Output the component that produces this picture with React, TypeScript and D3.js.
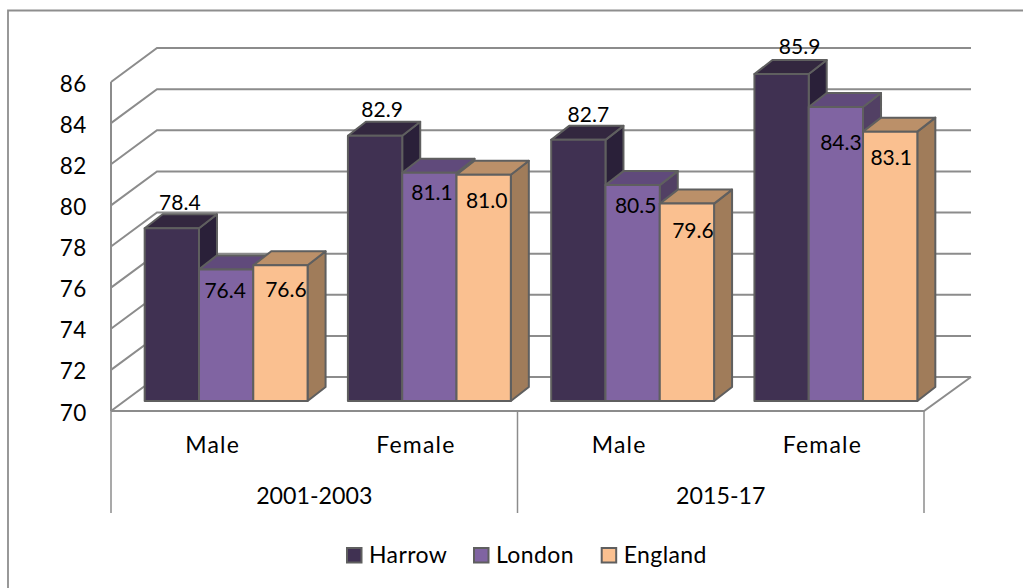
import React from "react";
import * as d3 from "d3";

const groups = ["2001-2003", "2015-17"];
const categories = ["Male", "Female", "Male", "Female"];
const seriesNames = ["Harrow", "London", "England"];
const harrow = [78.4, 82.9, 82.7, 85.9];
const london = [76.4, 81.1, 80.5, 84.3];
const england = [76.6, 81.0, 79.6, 83.1];
const ticks = [70, 72, 74, 76, 78, 80, 82, 84, 86];

const fronts = ["#403152", "#8064a2", "#fac090"];
const tops = ["#33273f", "#604a7b", "#bb9069"];
const sides = ["#2a2039", "#524064", "#a07c5a"];
// hand-placed label nudges, per series then per category: [dx, dy from bar top]
const labelNudge = [
  [[8, -18.5], [7, -19], [10, -18], [18, -20]],
  [[-1, 29], [2.6, 27], [3, 27.6], [5, 43.5]],
  [[5.5, 32], [3, 33], [6, 34], [1, 33]],
];

const FONT = "Lato, Carlito, Calibri, sans-serif";
const GRID = "#8c8c8c";
const EDGE = "#5f5f5f";

export default function App() {
  const x0 = 111, x1 = 924, yBase = 411, yTop = 82;
  const dx = 46, dy = 34;
  const y = d3.scaleLinear().domain([70, 86]).range([yBase, yTop]);
  const groupScale = d3.scaleBand<number>().domain([0, 1, 2, 3]).range([x0, x1]);
  const barDx = 18, barDy = 14, shiftX = 13.5, shiftY = 10;
  const series = [harrow, london, england];
  const barW = 54.3;
  const groupW = groupScale.bandwidth();
  const groupLeft = (i: number) => groupScale(i)! + (groupW - barW * 3) / 2 + shiftX;

  return (
    <svg width={1023} height={588} style={{ position: "absolute", left: 0, top: 0, background: "#fff" }} fontFamily={FONT}>
      <polyline fill="none" stroke="#8e8e8e" strokeWidth={1.8} points={`8,588 8,10.5 1023,10.5`} />
      {ticks.map((t) => (
        <polyline key={t} fill="none" stroke={GRID} strokeWidth={2}
          points={`${x0},${y(t)} ${x0 + dx},${y(t) - dy} ${x1 + dx + 1},${y(t) - dy}`} />
      ))}
      <line x1={x0} x2={x0} y1={yTop} y2={yBase} stroke={GRID} strokeWidth={2} />
      <polyline fill="none" stroke={GRID} strokeWidth={2} points={`${x0},${yBase} ${x1},${yBase} ${x1 + dx + 1},${yBase - dy}`} />
      {[x0, (x0 + x1) / 2, x1].map((v) => (
        <line key={v} x1={v} x2={v} y1={yBase} y2={513} stroke={GRID} strokeWidth={1.5} />
      ))}
      {ticks.map((t) => (
        <text key={t} x={86.5} y={y(t) + 9.5} textAnchor="end" fontSize={22.5} letterSpacing={0.3} fill="#000">{t}</text>
      ))}
      {categories.map((c, i) => {
        const gx = groupLeft(i);
        return (
          <g key={i}>
            <text x={groupScale(i)! + groupW / 2} y={452.7} textAnchor="middle" fontSize={23} letterSpacing={1.2}>{c}</text>
            {series.map((s, k) => {
              const bx = gx + k * barW;
              const base = yBase - shiftY;
              const ty = y(s[i]) - shiftY;
              return (
                <g key={k} stroke={EDGE} strokeWidth={2} strokeLinejoin="round">
                  <polygon fill={sides[k]} points={`${bx + barW},${ty} ${bx + barW + barDx},${ty - barDy} ${bx + barW + barDx},${base - barDy} ${bx + barW},${base}`} />
                  <polygon fill={tops[k]} points={`${bx},${ty} ${bx + barDx},${ty - barDy} ${bx + barW + barDx},${ty - barDy} ${bx + barW},${ty}`} />
                  <rect x={bx} y={ty} width={barW} height={base - ty} fill={fronts[k]} />
                </g>
              );
            })}
          </g>
        );
      })}
      {categories.map((_, i) => {
        const gx = groupLeft(i);
        return series.map((s, k) => {
          const bx = gx + k * barW;
          const ty = y(s[i]) - shiftY;
          const [nx, ny] = labelNudge[k][i];
          return (
            <text key={k} x={bx + barW / 2 + nx} y={ty + ny} textAnchor="middle" fontSize={21} fill="#000">{s[i].toFixed(1)}</text>
          );
        });
      })}
      {groups.map((g, i) => (
        <text key={g} x={groupScale(i * 2)! + groupW} y={504} textAnchor="middle" fontSize={23.2}>{g}</text>
      ))}
      {seriesNames.map((n, i) => {
        const lx = [346, 473, 600.7][i];
        return (
          <g key={n}>
            <rect x={lx + 1} y={548} width={14.5} height={14.5} fill={fronts[i]} stroke={EDGE} strokeWidth={2} />
            <text x={lx + 23} y={562.7} fontSize={23} letterSpacing={0.4}>{n}</text>
          </g>
        );
      })}
    </svg>
  );
}
